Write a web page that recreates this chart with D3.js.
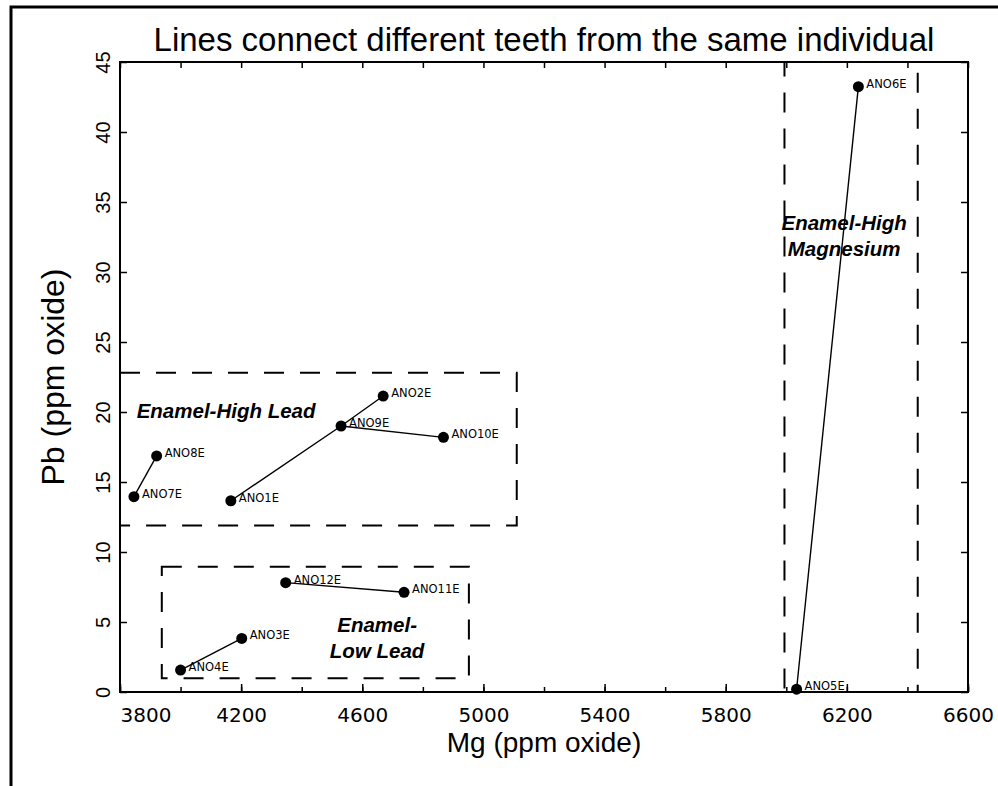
<!DOCTYPE html>
<html>
<head>
<meta charset="utf-8">
<script src="https://d3js.org/d3.v7.min.js"></script>
<style>
body { margin: 0; background: #fff; }
</style>
</head>
<body>
<script>
// teeth samples, Mg and Pb
var samples  = ["ANO1E", "ANO2E", "ANO3E", "ANO4E", "ANO5E", "ANO6E", "ANO7E", "ANO8E", "ANO9E", "ANO10E", "ANO11E", "ANO12E"];
var mgValues = [4166, 4669, 4202, 4000, 6034, 6238, 3846, 3921, 4530, 4868, 4738, 4347];
var pbValues = [13.66, 21.14, 3.83, 1.57, 0.2, 43.24, 13.95, 16.86, 19.0, 18.19, 7.12, 7.81];

// lines between teeth of the same individual
var links = [["ANO7E", "ANO8E"], ["ANO1E", "ANO9E"], ["ANO9E", "ANO2E"], ["ANO9E", "ANO10E"],
             ["ANO12E", "ANO11E"], ["ANO4E", "ANO3E"], ["ANO5E", "ANO6E"]];

// dashed groups
var regionText  = [["Enamel-High Lead"], ["Enamel-", "Low Lead"], ["Enamel-High", "Magnesium"]];
var regionMg    = [[3800, 5110], [3938, 4952], [5994, 6434]];
var regionPb    = [[11.9, 22.8], [0.98, 8.95], [0, 45]];
var regionTextAt = [[3855, 19.57], [4649, 4.31], [6191, 33.0]];

var xTickValues  = d3.range(3800, 6601, 200);
var xLabelValues = d3.range(3800, 6601, 400);
var yTickValues  = d3.range(0, 46, 5);

var title = "Lines connect different teeth from the same individual";
var xTitle = "Mg (ppm oxide)";
var yTitle = "Pb (ppm oxide)";

var width = 998, height = 786;
var plotLeft = 120, plotRight = 968, plotTop = 62, plotBottom = 692;

var svg = d3.select("body").append("svg")
    .attr("width", width)
    .attr("height", height);

svg.append("rect")
    .attr("width", width).attr("height", height)
    .attr("fill", "#fff");

// outer border (runs off the right and bottom)
svg.append("rect")
    .attr("x", 11).attr("y", 7)
    .attr("width", 1100).attr("height", 900)
    .attr("fill", "none")
    .attr("stroke", "#000")
    .attr("stroke-width", 3);

var x = d3.scaleLinear().domain([3800, 6600]).range([plotLeft, plotRight]);
var y = d3.scaleLinear().domain([0, 45]).range([plotBottom, plotTop]);

// frame
svg.append("rect")
    .attr("x", plotLeft).attr("y", plotTop)
    .attr("width", plotRight - plotLeft).attr("height", plotBottom - plotTop)
    .attr("fill", "none")
    .attr("stroke", "#000")
    .attr("stroke-width", 2);

// bottom axis: short ticks every 200, longer labelled ticks every 400
svg.append("g")
    .attr("transform", "translate(0," + plotBottom + ")")
    .call(d3.axisBottom(x).tickValues(xTickValues).tickSize(-5).tickFormat(""))
    .call(function(g) { g.select(".domain").remove(); });

var xAxis = svg.append("g")
    .attr("transform", "translate(0," + plotBottom + ")")
    .call(d3.axisBottom(x).tickValues(xLabelValues).tickSize(-8).tickPadding(16).tickFormat(d3.format("d")));
xAxis.select(".domain").remove();
xAxis.selectAll("text")
    .attr("font-family", "DejaVu Sans, sans-serif")
    .attr("font-size", 20)
    .attr("fill", "#000")
    .attr("text-anchor", function(d) { return d === 3800 ? "start" : "middle"; });

// top axis ticks
svg.append("g")
    .attr("transform", "translate(0," + plotTop + ")")
    .call(d3.axisTop(x).tickValues(xTickValues).tickSize(-6).tickFormat(""))
    .call(function(g) { g.select(".domain").remove(); });

// left axis with rotated labels
var yAxis = svg.append("g")
    .attr("transform", "translate(" + plotLeft + ",0)")
    .call(d3.axisLeft(y).tickValues(yTickValues).tickSize(-7));
yAxis.select(".domain").remove();
yAxis.selectAll("text")
    .attr("x", null)
    .attr("dy", null)
    .attr("transform", "translate(-10,0) rotate(-90)")
    .attr("text-anchor", "middle")
    .attr("font-family", "Liberation Sans, Arial, sans-serif")
    .attr("font-size", 20)
    .attr("fill", "#000");

// right axis ticks
svg.append("g")
    .attr("transform", "translate(" + plotRight + ",0)")
    .call(d3.axisRight(y).tickValues(yTickValues).tickSize(-7).tickFormat(""))
    .call(function(g) { g.select(".domain").remove(); });

svg.selectAll(".tick line").attr("stroke", "#000").attr("stroke-width", 1.5);

// dashed regions
svg.append("g").selectAll("rect")
    .data(regionMg)
    .enter()
    .append("rect")
        .attr("x", function(d) { return x(d[0]); })
        .attr("width", function(d) { return x(d[1]) - x(d[0]); })
        .attr("y", function(d, i) { return y(regionPb[i][1]); })
        .attr("height", function(d, i) { return y(regionPb[i][0]) - y(regionPb[i][1]); })
        .attr("fill", "none")
        .attr("stroke", "#000")
        .attr("stroke-width", 2)
        .attr("stroke-dasharray", "20,16");

// region names
svg.append("g").selectAll("text")
    .data(regionText)
    .enter()
    .append("text")
        .attr("x", function(d, i) { return x(regionTextAt[i][0]); })
        .attr("y", function(d, i) { return y(regionTextAt[i][1]); })
        .attr("text-anchor", function(d, i) { return i === 0 ? "start" : "middle"; })
        .attr("font-family", "Liberation Sans, Arial, sans-serif")
        .attr("font-size", 20.5)
        .attr("font-weight", "bold")
        .attr("font-style", "italic")
        .attr("fill", "#000")
        .each(function(d, i) {
            var t = d3.select(this);
            var x0 = x(regionTextAt[i][0]);
            d.forEach(function(line, k) {
                t.append("tspan").attr("x", x0).attr("dy", k === 0 ? 0 : 26).text(line);
            });
        });

// connecting lines
var idx = {};
samples.forEach(function(s, i) { idx[s] = i; });

svg.append("g").selectAll("line")
    .data(links)
    .enter()
    .append("line")
        .attr("x1", function(d) { return x(mgValues[idx[d[0]]]); })
        .attr("y1", function(d) { return y(pbValues[idx[d[0]]]); })
        .attr("x2", function(d) { return x(mgValues[idx[d[1]]]); })
        .attr("y2", function(d) { return y(pbValues[idx[d[1]]]); })
        .attr("stroke", "#000")
        .attr("stroke-width", 1.4);

// points
svg.append("g").selectAll("circle")
    .data(samples)
    .enter()
    .append("circle")
        .attr("cx", function(d, i) { return x(mgValues[i]); })
        .attr("cy", function(d, i) { return y(pbValues[i]); })
        .attr("r", 5.5)
        .attr("fill", "#000");

svg.append("g").selectAll("text")
    .data(samples)
    .enter()
    .append("text")
        .attr("x", function(d, i) { return x(mgValues[i]) + 8; })
        .attr("y", function(d, i) { return y(pbValues[i]) - 3; })
        .attr("dy", "0.35em")
        .attr("font-family", "DejaVu Sans, sans-serif")
        .attr("font-size", 11.5)
        .attr("fill", "#000")
        .text(function(d) { return d; });

// titles
svg.append("text")
    .attr("x", (plotLeft + plotRight) / 2)
    .attr("y", 51)
    .attr("text-anchor", "middle")
    .attr("font-family", "Liberation Sans, Arial, sans-serif")
    .attr("font-size", 33)
    .attr("fill", "#000")
    .text(title);

svg.append("text")
    .attr("x", (plotLeft + plotRight) / 2)
    .attr("y", 752)
    .attr("text-anchor", "middle")
    .attr("font-family", "Liberation Sans, Arial, sans-serif")
    .attr("font-size", 28)
    .attr("fill", "#000")
    .text(xTitle);

svg.append("text")
    .attr("transform", "translate(64," + ((plotTop + plotBottom) / 2) + ") rotate(-90)")
    .attr("text-anchor", "middle")
    .attr("font-family", "Liberation Sans, Arial, sans-serif")
    .attr("font-size", 32)
    .attr("fill", "#000")
    .text(yTitle);
</script>
</body>
</html>
